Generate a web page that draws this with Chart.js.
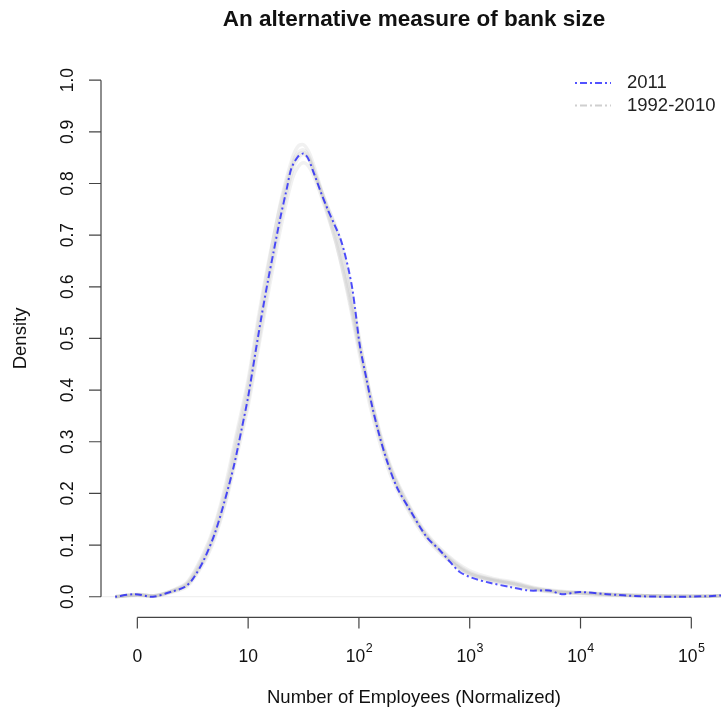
<!DOCTYPE html>
<html>
<head>
<meta charset="utf-8">
<script src="https://cdn.jsdelivr.net/npm/chart.js@4.4.1/dist/chart.umd.min.js"></script>
<style>
  html, body { margin: 0; padding: 0; background: #fff; }
  #wrap { width: 721px; height: 715px; position: relative; }
</style>
</head>
<body>
<div id="wrap"><canvas id="c"></canvas></div>
<script>
// log10(employees) positions and density for 2011
const x2011 = [-0.2, -0.02, 0.14, 0.31, 0.43, 0.5, 0.6, 0.7, 0.79, 0.87, 0.94, 1.0, 1.06, 1.12, 1.18, 1.23, 1.29, 1.35, 1.39, 1.45, 1.5, 1.54, 1.6, 1.66, 1.72, 1.78, 1.83, 1.87, 1.91, 1.94, 1.97, 2.01, 2.07, 2.12, 2.18, 2.25, 2.34, 2.46, 2.61, 2.73, 2.82, 2.91, 3.03, 3.18, 3.36, 3.54, 3.72, 3.83, 3.99, 4.24, 4.54, 4.84, 5.14, 5.3];
const y2011 = [0.0, 0.005, 0.0, 0.01, 0.019, 0.034, 0.071, 0.123, 0.187, 0.252, 0.323, 0.387, 0.465, 0.542, 0.613, 0.668, 0.733, 0.791, 0.829, 0.852, 0.858, 0.849, 0.816, 0.781, 0.749, 0.72, 0.695, 0.666, 0.63, 0.597, 0.55, 0.484, 0.42, 0.368, 0.316, 0.265, 0.213, 0.168, 0.116, 0.09, 0.068, 0.048, 0.036, 0.027, 0.019, 0.012, 0.012, 0.005, 0.009, 0.005, 0.001, 0.0, 0.001, 0.003];

// earlier years 1992-2010 (grey band)
const xEarlier = [-0.2, 0.0, 0.15, 0.3, 0.45, 0.6, 0.7, 0.8, 0.9, 1.0, 1.1, 1.2, 1.3, 1.4, 1.45, 1.5, 1.55, 1.6, 1.7, 1.8, 1.9, 2.0, 2.1, 2.2, 2.3, 2.45, 2.6, 2.8, 3.0, 3.2, 3.4, 3.6, 3.8, 4.0, 4.3, 4.6, 5.0, 5.3];
const yEarlierA = [0.0, 0.004, 0.002, 0.01, 0.026, 0.08, 0.135, 0.21, 0.31, 0.41, 0.54, 0.66, 0.77, 0.85, 0.872, 0.875, 0.86, 0.83, 0.76, 0.69, 0.6, 0.49, 0.38, 0.3, 0.235, 0.17, 0.12, 0.075, 0.045, 0.032, 0.024, 0.014, 0.009, 0.007, 0.004, 0.002, 0.001, 0.002];
const yEarlierB = [0.0, 0.003, 0.001, 0.008, 0.02, 0.066, 0.114, 0.185, 0.275, 0.37, 0.49, 0.61, 0.72, 0.81, 0.832, 0.84, 0.832, 0.81, 0.75, 0.68, 0.59, 0.485, 0.39, 0.305, 0.24, 0.175, 0.122, 0.078, 0.047, 0.034, 0.026, 0.016, 0.01, 0.007, 0.004, 0.002, 0.001, 0.002];
const yEarlierC = [0.0, 0.005, 0.002, 0.011, 0.028, 0.085, 0.14, 0.22, 0.32, 0.42, 0.55, 0.665, 0.765, 0.84, 0.86, 0.865, 0.852, 0.822, 0.755, 0.68, 0.585, 0.475, 0.37, 0.29, 0.228, 0.165, 0.115, 0.072, 0.044, 0.033, 0.025, 0.015, 0.009, 0.006, 0.003, 0.002, 0.001, 0.002];
const yEarlierD = [0.0, 0.004, 0.001, 0.009, 0.023, 0.074, 0.126, 0.2, 0.295, 0.395, 0.52, 0.64, 0.75, 0.835, 0.855, 0.86, 0.848, 0.82, 0.765, 0.705, 0.615, 0.5, 0.395, 0.31, 0.245, 0.178, 0.125, 0.08, 0.05, 0.036, 0.028, 0.017, 0.011, 0.008, 0.005, 0.002, 0.001, 0.002];
const yEarlierE = [0.0, 0.004, 0.002, 0.01, 0.024, 0.07, 0.12, 0.19, 0.285, 0.38, 0.5, 0.625, 0.735, 0.825, 0.848, 0.856, 0.846, 0.818, 0.762, 0.712, 0.63, 0.505, 0.392, 0.303, 0.24, 0.172, 0.12, 0.074, 0.042, 0.03, 0.021, 0.013, 0.008, 0.008, 0.004, 0.002, 0.001, 0.002];

const yTicks = [0, 0.1, 0.2, 0.3, 0.4, 0.5, 0.6, 0.7, 0.8, 0.9, 1.0];
const xTicks = [0, 1, 2, 3, 4, 5];
const xTickLabels = ['0', '10', '10^2', '10^3', '10^4', '10^5'];
const legendLabels = ['2011', '1992-2010'];

const FONT = '"Liberation Sans", Arial, Helvetica, sans-serif';
const BLUE = 'rgba(0,0,255,0.68)';
const GREY = 'rgba(170,170,170,0.16)';
const DASH = [2, 3, 7, 3];

function pts(xs, ys) {
    return xs.map((x, i) => ({ x: x, y: ys[i] }));
}

const greySets = [yEarlierA, yEarlierB, yEarlierC, yEarlierD, yEarlierE].map((ys, i) => ({
    label: legendLabels[1] + ' ' + (i + 1),
    data: pts(xEarlier, ys),
    borderColor: GREY,
    borderWidth: 3.5,
    pointRadius: 0,
    tension: 0.3
}));

// R-style axes, labels, title and legend
const rStyle = {
    id: 'rStyle',
    beforeDatasetsDraw(chart) {
        const ctx = chart.ctx, a = chart.chartArea, ys = chart.scales.y;
        ctx.save();
        ctx.strokeStyle = '#ececec';
        ctx.lineWidth = 1;
        ctx.beginPath();
        ctx.moveTo(a.left, ys.getPixelForValue(0));
        ctx.lineTo(a.right, ys.getPixelForValue(0));
        ctx.stroke();
        ctx.restore();
    },
    afterDraw(chart) {
        const ctx = chart.ctx, a = chart.chartArea;
        const xs = chart.scales.x, ys = chart.scales.y;
        const midX = 414;
        ctx.save();
        ctx.strokeStyle = '#444';
        ctx.fillStyle = '#111';
        ctx.lineWidth = 1.2;

        // y axis
        const y0 = ys.getPixelForValue(yTicks[0]), y1 = ys.getPixelForValue(yTicks[yTicks.length - 1]);
        ctx.beginPath();
        ctx.moveTo(a.left, y0); ctx.lineTo(a.left, y1);
        yTicks.forEach(t => {
            const p = ys.getPixelForValue(t);
            ctx.moveTo(a.left, p); ctx.lineTo(a.left - 12, p);
        });
        ctx.stroke();
        ctx.font = '17.5px ' + FONT;
        ctx.textAlign = 'center';
        ctx.textBaseline = 'middle';
        yTicks.forEach(t => {
            const p = ys.getPixelForValue(t);
            ctx.save();
            ctx.translate(68, p);
            ctx.rotate(-Math.PI / 2);
            ctx.fillText(t.toFixed(1), 0, 0);
            ctx.restore();
        });

        // x axis (drawn below the plot like R)
        const axY = 617.4;
        ctx.beginPath();
        ctx.moveTo(xs.getPixelForValue(xTicks[0]), axY);
        ctx.lineTo(xs.getPixelForValue(xTicks[xTicks.length - 1]), axY);
        xTicks.forEach(t => {
            const p = xs.getPixelForValue(t);
            ctx.moveTo(p, axY); ctx.lineTo(p, axY + 11);
        });
        ctx.stroke();
        xTicks.forEach((t, i) => {
            const p = xs.getPixelForValue(t);
            const parts = xTickLabels[i].split('^');
            ctx.font = '17.5px ' + FONT;
            const wb = ctx.measureText(parts[0]).width;
            let we = 0;
            if (parts[1]) {
                ctx.font = '12.5px ' + FONT;
                we = ctx.measureText(parts[1]).width;
            }
            const left = p - (wb + we) / 2;
            ctx.textAlign = 'left';
            ctx.font = '17.5px ' + FONT;
            ctx.fillText(parts[0], left, 657);
            if (parts[1]) {
                ctx.font = '12.5px ' + FONT;
                ctx.fillText(parts[1], left + wb + 0.5, 649);
            }
        });

        // axis titles
        ctx.font = '18.5px ' + FONT;
        ctx.textAlign = 'center';
        ctx.fillText('Number of Employees (Normalized)', midX, 698);
        ctx.save();
        ctx.translate(21, (a.top + a.bottom) / 2);
        ctx.rotate(-Math.PI / 2);
        ctx.fillText('Density', 0, 0);
        ctx.restore();

        // title
        ctx.font = 'bold 22.5px ' + FONT;
        ctx.fillText('An alternative measure of bank size', midX, 20);

        // legend
        ctx.lineWidth = 2;
        ctx.setLineDash(DASH);
        ctx.strokeStyle = BLUE;
        ctx.beginPath(); ctx.moveTo(575, 83); ctx.lineTo(611, 83); ctx.stroke();
        ctx.strokeStyle = '#cfcfcf';
        ctx.beginPath(); ctx.moveTo(575, 105.5); ctx.lineTo(611, 105.5); ctx.stroke();
        ctx.setLineDash([]);
        ctx.font = '18.5px ' + FONT;
        ctx.textAlign = 'left';
        ctx.fillStyle = '#222';
        ctx.fillText(legendLabels[0], 627, 83);
        ctx.fillText(legendLabels[1], 627, 105.5);
        ctx.restore();
    }
};

new Chart(document.getElementById('c'), {
    type: 'line',
    data: {
        datasets: [{
            label: legendLabels[0],
            data: pts(x2011, y2011),
            borderColor: BLUE,
            borderWidth: 2,
            borderDash: DASH,
            pointRadius: 0,
            tension: 0.3
        }].concat(greySets)
    },
    options: {
        responsive: true,
        maintainAspectRatio: false,
        animation: false,
        layout: { padding: { left: 101, right: 0, top: 59.5, bottom: 97.6 } },
        scales: {
            x: { type: 'linear', min: -0.328, max: 5.268, display: false },
            y: { type: 'linear', min: -0.04, max: 1.04, display: false }
        },
        plugins: { legend: { display: false }, title: { display: false }, tooltip: { enabled: false } }
    },
    plugins: [rStyle]
});
</script>
</body>
</html>
